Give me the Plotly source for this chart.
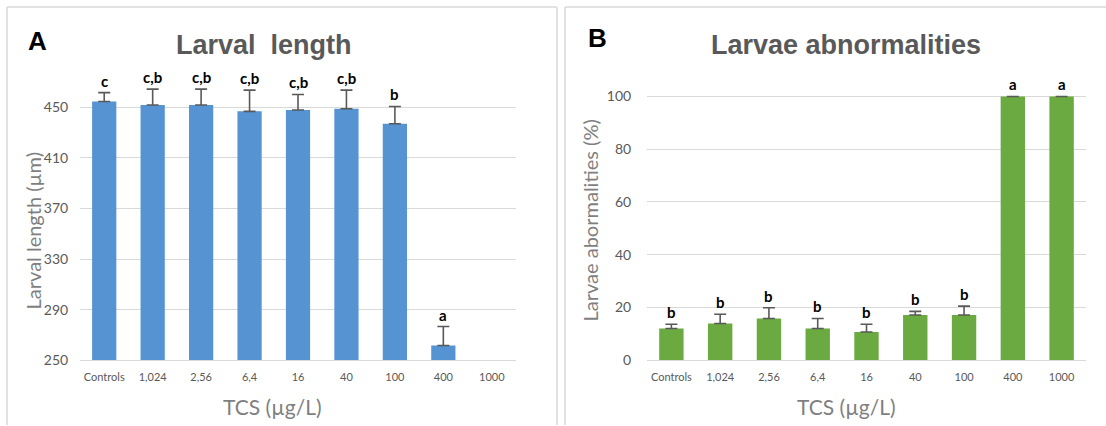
import plotly.graph_objects as go

# Exposure groups (TCS concentration, µg/L)
categories = ["Controls", "1,024", "2,56", "6,4", "16", "40", "100", "400", "1000"]

# Panel A: larval length (µm), mean and SD
length_mean = [454.7, 451.9, 451.9, 446.9, 448.0, 449.0, 437.1, 261.6, None]
length_err = [7.0, 12.6, 12.6, 16.8, 12.3, 14.7, 13.7, 15.0, None]
length_letters = ["c", "c,b", "c,b", "c,b", "c,b", "c,b", "b", "a", ""]
length_ticks = [250, 290, 330, 370, 410, 450]

# Panel B: larvae abnormalities (%), mean and SD
abn_mean = [12.0, 13.9, 15.8, 12.0, 10.7, 17.1, 17.1, 100, 100]
abn_err = [1.6, 3.5, 4.1, 3.8, 2.9, 1.4, 3.4, 0, 0]
abn_letters = ["b", "b", "b", "b", "b", "b", "b", "a", "a"]
abn_ticks = [0, 20, 40, 60, 80, 100]

W, H = 1106, 433
REF_H = 426  # layout grid used for placing elements
GRID = "#d9d9d9"
TICK = "#595959"
AXT = "#7f7f7f"
BODY = "Lato, 'Open Sans', sans-serif"
HEAD = "'Liberation Sans', Arial, sans-serif"

# categories are placed at integer slots; labels come from ticktext
pos = list(range(len(categories)))

fig = go.Figure()

fig.add_trace(go.Bar(
    x=pos, y=length_mean, xaxis="x", yaxis="y", width=0.5,
    marker=dict(color="#5593d3", line=dict(width=0)),
    error_y=dict(type="data", symmetric=False, array=length_err,
                 arrayminus=[0] * len(length_err),
                 color="#595959", thickness=1.6, width=6),
    showlegend=False, hoverinfo="y",
))

fig.add_trace(go.Bar(
    x=pos, y=abn_mean, xaxis="x2", yaxis="y2", width=0.5,
    marker=dict(color="#6aaa40", line=dict(width=0)),
    error_y=dict(type="data", symmetric=False, array=abn_err,
                 arrayminus=[0] * len(abn_err),
                 color="#595959", thickness=1.6, width=6),
    showlegend=False, hoverinfo="y",
))

# Significance letters above each error bar
LETTER = dict(family=BODY, size=15, color="#000000")
annotations = []
for i, m, e, lab in zip(pos, length_mean, length_err, length_letters):
    if m is None or not lab:
        continue
    annotations.append(dict(x=i, y=m + e, xref="x", yref="y", text=f"<b>{lab}</b>",
                            showarrow=False, xanchor="center", yanchor="bottom", yshift=1,
                            font=LETTER))
for i, m, e, lab in zip(pos, abn_mean, abn_err, abn_letters):
    annotations.append(dict(x=i, y=m + e, xref="x2", yref="y2", text=f"<b>{lab}</b>",
                            showarrow=False, xanchor="center", yanchor="bottom", yshift=1,
                            font=LETTER))

def px_x(p):
    return p / W

def px_y(p):
    return 1 - p / REF_H

def label(x, y, text, size, color, family, angle=0):
    return dict(x=px_x(x), y=px_y(y), xref="paper", yref="paper", text=text,
                textangle=angle, showarrow=False, xanchor="center", yanchor="middle",
                font=dict(family=family, size=size, color=color))

# Panel titles, letters and axis titles
annotations += [
    label(264, 45, "<b>Larval  length</b>", 27, "#595959", HEAD),
    label(846, 45, "<b>Larvae abnormalities</b>", 27, "#595959", HEAD),
    label(37, 41, "<b>A</b>", 26, "#000000", HEAD),
    label(597, 38, "<b>B</b>", 26, "#000000", HEAD),
    label(272, 407, "TCS (µg/L)", 21, AXT, BODY),
    label(846, 407, "TCS (µg/L)", 21, AXT, BODY),
    label(33, 232, "Larval length (µm)", 20, AXT, BODY, -90),
    label(590, 221, "Larvae abormalities (%)", 20, AXT, BODY, -90),
]

# Chart-area frames (left, top and right edges kept inside the page)
frame = dict(type="line", xref="paper", yref="paper", line=dict(color=GRID, width=1.5),
             layer="below")
shapes = [
    dict(frame, x0=px_x(7), x1=px_x(7), y0=0, y1=px_y(7)),
    dict(frame, x0=px_x(7), x1=px_x(557), y0=px_y(7), y1=px_y(7)),
    dict(frame, x0=px_x(557), x1=px_x(557), y0=0, y1=px_y(7)),
    dict(frame, x0=px_x(565), x1=px_x(565), y0=0, y1=px_y(7)),
    dict(frame, x0=px_x(565), x1=1, y0=px_y(7), y1=px_y(7)),
]

plot_top, plot_bottom = 70, 361
ydom = [px_y(plot_bottom), px_y(plot_top)]
y1_top = 250 + (plot_bottom - plot_top) / 1.2665
y2_top = (plot_bottom - plot_top) / 2.643

xcommon = dict(type="linear", range=[-0.5, len(categories) - 0.5],
               tickvals=pos, ticktext=categories,
               showgrid=False, zeroline=False, showline=True, linecolor=GRID, linewidth=1,
               ticks="outside", ticklen=7, tickcolor="rgba(0,0,0,0)",
               tickfont=dict(family=BODY, size=11, color=TICK), fixedrange=True)
ycommon = dict(showgrid=True, gridcolor=GRID, gridwidth=1, zeroline=False, showline=False,
               ticks="outside", tickcolor="rgba(0,0,0,0)",
               tickfont=dict(family=BODY, size=14, color=TICK), fixedrange=True)

fig.update_layout(
    width=W, height=H,
    margin=dict(l=0, r=0, t=0, b=0),
    paper_bgcolor="white", plot_bgcolor="white",
    xaxis=dict(domain=[px_x(80), px_x(516)], anchor="y", **xcommon),
    yaxis=dict(domain=ydom, anchor="x", range=[250, y1_top], tickvals=length_ticks,
               ticklen=8, **ycommon),
    xaxis2=dict(domain=[px_x(647), px_x(1086)], anchor="y2", **xcommon),
    yaxis2=dict(domain=ydom, anchor="x2", range=[0, y2_top], tickvals=abn_ticks,
                ticklen=12, **ycommon),
    annotations=annotations,
    shapes=shapes,
)

fig.write_html("out.html")
